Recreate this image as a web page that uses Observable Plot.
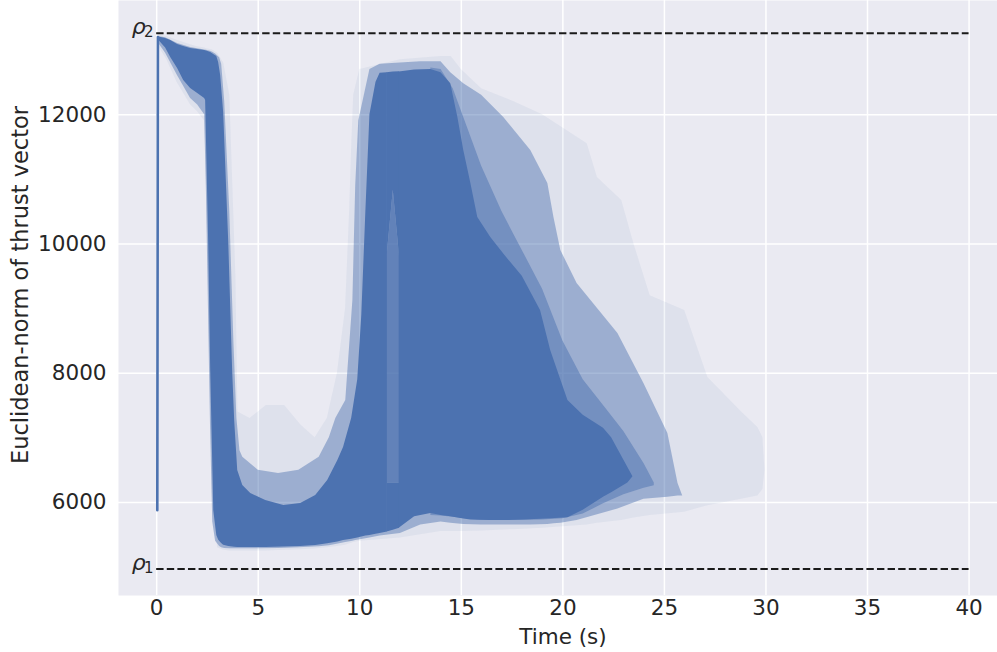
<!DOCTYPE html>
<html>
<head>
<meta charset="utf-8">
<script src="https://cdn.jsdelivr.net/npm/d3@7"></script>
<script src="https://cdn.jsdelivr.net/npm/@observablehq/plot@0.6"></script>
<style>
  html, body { margin: 0; padding: 0; background: #ffffff; }
  #chart { width: 997px; height: 652px; }
</style>
</head>
<body>
<div id="chart"></div>
<script>
// ---- tick labels ----
const xTicks = [0, 5, 10, 15, 20, 25, 30, 35, 40];
const yTicks = [6000, 8000, 10000, 12000];

// ---- thrust bounds ----
const rhoValues = [4971.8, 13258.2];
const rhoSymbols = ["ρ", "ρ"];
const rhoIndices = ["1", "2"];

// ---- initial spike (all trajectories) ----
const spikeTime = [0.03, 0.06];
const spikeThrust = [5880, 13200];

// ---- dense core of the Monte-Carlo trajectories ----
const coreATime = [0.10, 0.44, 0.69, 1.03, 1.33, 1.67, 2.02, 2.36, 2.41, 2.56, 2.66, 2.81, 2.96, 3.05, 3.15, 3.25, 3.30, 3.55, 3.74, 3.84, 3.99, 4.24, 4.63, 5.37, 6.26, 7.09, 7.83, 8.42, 8.92, 9.20, 9.60, 9.90, 10.10, 10.30, 10.50, 10.80, 11.00, 11.36];
const coreAHigh = [13200, 13178, 13147, 13085, 13054, 13023, 13008, 12992, 12990, 12975, 12962, 12930, 12900, 12807, 12606, 12219, 12018, 10007, 8042, 7269, 6495, 6263, 6139, 6031, 5954, 5985, 6108, 6340, 6650, 6850, 7300, 7900, 8900, 10500, 12000, 12500, 12640, 12650];
const coreALow  = [13150, 13030, 12884, 12714, 12528, 12405, 12327, 12250, 12219, 10007, 8042, 5876, 5489, 5420, 5381, 5350, 5340, 5320, 5310, 5308, 5305, 5304, 5304, 5304, 5310, 5320, 5335, 5360, 5390, 5410, 5430, 5450, 5465, 5480, 5490, 5510, 5520, 5545];

// lighter column of trajectories around t = 11.3–12 s
const stripeTime = [11.34, 11.65, 11.96];
const stripeTopHigh = [12650, 12660, 12665];
const stripeTopLow = [9800, 10830, 9800];
const stripeMidHigh = [9800, 10830, 9800];
const stripeMidLow = [6300, 6300, 6300];
const stripeBottomHigh = [6300, 6300, 6300];
const stripeBottomLow = [5545, 5570, 5600];

const coreCTime = [11.94, 12.70, 13.50, 14.00, 14.48, 14.83, 15.12, 15.47, 15.81, 16.45, 17.20, 18.00, 18.90, 19.40, 20.25, 21.00, 22.00, 22.40, 23.20, 23.45];
const coreCHigh = [12660, 12690, 12700, 12650, 12480, 11956, 11445, 10935, 10409, 10100, 9800, 9500, 8970, 8351, 7578, 7350, 7150, 7000, 6541, 6400];
const coreCLow  = [5600, 5780, 5830, 5800, 5780, 5760, 5745, 5730, 5725, 5720, 5720, 5730, 5740, 5750, 5765, 5880, 6080, 6150, 6300, 6400];

// ---- streaky zone right of the second high-thrust block ----
const innerTime = [13.50, 14.00, 14.60, 15.30, 16.00, 17.00, 18.00, 19.00, 20.00, 21.00, 22.00, 23.00, 24.00, 24.50];
const innerHigh = [12720, 12700, 12400, 11800, 11200, 10500, 9900, 9300, 8500, 7900, 7500, 7100, 6600, 6300];
const innerLow  = [5800, 5790, 5770, 5750, 5730, 5720, 5720, 5730, 5750, 5820, 5980, 6120, 6220, 6260];

// ---- medium-density envelope ----
const midTime = [0.10, 0.44, 1.03, 1.67, 2.02, 2.36, 2.45, 2.55, 2.65, 2.76, 2.90, 3.10, 3.20, 3.35, 3.60, 3.80, 3.95, 4.10, 4.24, 5.00, 6.00, 7.00, 8.00, 8.50, 8.82, 9.31, 9.66, 9.80, 9.95, 10.50, 11.00, 12.00, 13.00, 14.00, 14.48, 15.12, 16.00, 17.09, 18.42, 19.26, 19.56, 19.90, 20.70, 22.71, 23.99, 25.17, 25.67, 25.90];
const midHigh = [13210, 13190, 13100, 13040, 13020, 13000, 12995, 12990, 12980, 12965, 12940, 12880, 12780, 12200, 10500, 8500, 7300, 6800, 6700, 6500, 6450, 6500, 6700, 7000, 7300, 7578, 9125, 10900, 11900, 12700, 12780, 12800, 12820, 12820, 12650, 12480, 12300, 11956, 11445, 10935, 10409, 9898, 9388, 8614, 7841, 7067, 6294, 6100];
const midLow  = [13100, 12950, 12600, 12250, 12150, 12000, 10800, 9000, 7200, 5700, 5400, 5320, 5300, 5290, 5285, 5285, 5285, 5285, 5285, 5285, 5290, 5300, 5315, 5330, 5350, 5380, 5400, 5410, 5420, 5450, 5480, 5520, 5650, 5700, 5680, 5660, 5650, 5650, 5650, 5660, 5670, 5680, 5720, 5900, 6050, 6080, 6100, 6100];

// ---- faint outer envelope (rare trajectories) ----
const hazeTime = [0.10, 0.50, 1.00, 1.67, 2.00, 2.36, 2.45, 2.60, 2.75, 3.00, 3.30, 3.60, 3.90, 4.00, 4.60, 5.40, 6.30, 7.10, 7.80, 8.40, 8.90, 9.30, 9.50, 9.60, 9.70, 10.00, 12.00, 14.00, 14.50, 15.00, 16.00, 17.60, 19.00, 21.20, 21.70, 22.90, 23.50, 24.30, 26.00, 27.14, 28.80, 29.60, 29.85, 29.95];
const hazeHigh = [13230, 13210, 13150, 13080, 13050, 13030, 13020, 13010, 13000, 12950, 12800, 12300, 9500, 7400, 7300, 7500, 7500, 7200, 7000, 7300, 8000, 9000, 10500, 11500, 12300, 12700, 12850, 12900, 12900, 12700, 12400, 12200, 12000, 11550, 11028, 10672, 10000, 9200, 8970, 7934, 7400, 7160, 7000, 6500];
const hazeLow  = [13050, 12850, 12500, 12150, 12050, 11900, 11000, 8500, 6000, 5300, 5260, 5250, 5250, 5250, 5250, 5250, 5260, 5270, 5280, 5300, 5320, 5340, 5360, 5370, 5380, 5400, 5450, 5550, 5550, 5550, 5560, 5580, 5600, 5650, 5680, 5720, 5760, 5800, 5850, 5950, 6050, 6100, 6200, 6500];

// ---- build tables ----
const band = (ts, hi, lo) => ts.map((t, i) => ({t, high: hi[i], low: lo[i]}));
const coreA = band(coreATime, coreAHigh, coreALow);
const stripeTop = band(stripeTime, stripeTopHigh, stripeTopLow);
const stripeMid = band(stripeTime, stripeMidHigh, stripeMidLow);
const stripeBottom = band(stripeTime, stripeBottomHigh, stripeBottomLow);
const coreC = band(coreCTime, coreCHigh, coreCLow);
const inner = band(innerTime, innerHigh, innerLow);
const mid = band(midTime, midHigh, midLow);
const haze = band(hazeTime, hazeHigh, hazeLow);
const spike = spikeTime.map((t, i) => ({t, v: spikeThrust[i]}));
const rhos = rhoValues.map((v, i) => ({v, symbol: rhoSymbols[i], index: rhoIndices[i]}));

const blue = "#4C72B0";
const ink = "#262626";

const chart = Plot.plot({
  width: 997,
  height: 652,
  marginLeft: 118,
  marginRight: 0,
  marginTop: 0,
  marginBottom: 57,
  style: {fontFamily: "DejaVu Sans", fontSize: "21.5px", color: ink, background: "white", overflow: "visible"},
  x: {domain: [-1.88, 41.40]},
  y: {domain: [4561, 13766]},
  marks: [
    Plot.frame({fill: "#EAEAF2", stroke: null}),
    Plot.ruleX(xTicks, {stroke: "white", strokeWidth: 1.5}),
    Plot.ruleY(yTicks, {stroke: "white", strokeWidth: 1.5}),
    Plot.areaY(haze, {x: "t", y1: "low", y2: "high", fill: blue, fillOpacity: 0.07}),
    Plot.areaY(mid, {x: "t", y1: "low", y2: "high", fill: blue, fillOpacity: 0.45}),
    Plot.areaY(inner, {x: "t", y1: "low", y2: "high", fill: blue, fillOpacity: 0.5}),
    Plot.areaY(coreA, {x: "t", y1: "low", y2: "high", fill: blue}),
    Plot.areaY(stripeTop, {x: "t", y1: "low", y2: "high", fill: blue}),
    Plot.areaY(stripeMid, {x: "t", y1: "low", y2: "high", fill: blue, fillOpacity: 0.72}),
    Plot.areaY(stripeBottom, {x: "t", y1: "low", y2: "high", fill: blue}),
    Plot.areaY(coreC, {x: "t", y1: "low", y2: "high", fill: blue}),
    Plot.line(spike, {x: "t", y: "v", stroke: blue, strokeWidth: 2.6}),
    Plot.ruleY(rhos, {y: "v", x1: 0, x2: 40, stroke: "#1a1a1a", strokeWidth: 2, strokeDasharray: "7.4,3.2"}),
    Plot.text(rhos, {x: -0.15, y: "v", text: "symbol", textAnchor: "end", fontStyle: "italic", fontSize: 22, fill: ink, dx: -8, dy: -6}),
    Plot.text(rhos, {x: -0.15, y: "v", text: "index", textAnchor: "end", fontSize: 15, fill: ink, dy: -1}),
    Plot.axisX(xTicks, {tickSize: 0, tickPadding: 4, label: null, tickFormat: d => String(d)}),
    Plot.axisY(yTicks, {tickSize: 0, tickPadding: 12, label: null, tickFormat: d => String(d)}),
    Plot.text(["Time (s)"], {frameAnchor: "bottom", dx: 5, dy: 42, fontSize: 21.5, fill: ink, lineAnchor: "middle", textAnchor: "middle"}),
    Plot.text(["Euclidean-norm of thrust vector"], {frameAnchor: "left", dx: -98, dy: -13, rotate: -90, fontSize: 22.5, fill: ink, lineAnchor: "middle", textAnchor: "middle"})
  ]
});
document.getElementById("chart").appendChild(chart);
</script>
</body>
</html>
